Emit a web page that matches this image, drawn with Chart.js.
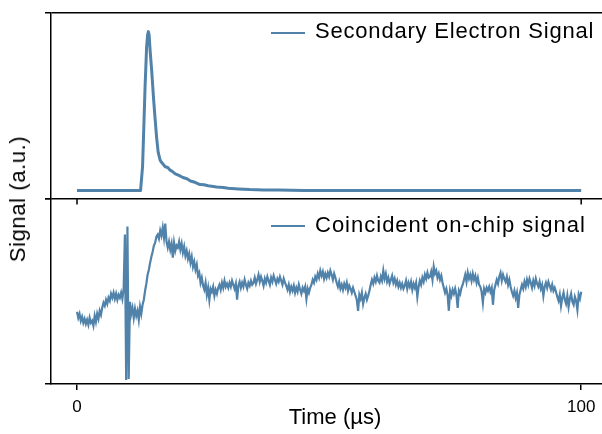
<!DOCTYPE html>
<html>
<head>
<meta charset="utf-8">
<script src="https://cdn.jsdelivr.net/npm/chart.js@4"></script>
<style>
  body { margin: 0; overflow: hidden; background: #fff; }
  #wrap { position: relative; width: 620px; height: 434px; font-family: "Liberation Sans", Arial, sans-serif; color: #000; }
  .swatch { position: absolute; left: 271px; width: 34px; height: 0; border-top: 2px solid #5082aa; }
  .legend { position: absolute; left: 315px; font-size: 22px; line-height: 20px; letter-spacing: 0.8px; white-space: nowrap; }
  #ylabel { position: absolute; left: 18px; top: 199px; font-size: 22px; letter-spacing: 0.6px; white-space: nowrap;
            transform: translate(-50%, -50%) rotate(-90deg); }
</style>
</head>
<body>
<div id="wrap">
  <canvas id="signals" width="620" height="434"></canvas>
  <div class="swatch" style="top:32px"></div>
  <div class="legend" id="legend-top" style="top:21px"></div>
  <div class="swatch" style="top:225px"></div>
  <div class="legend" id="legend-bottom" style="top:215px; letter-spacing:1px"></div>
  <div id="ylabel">Signal (a.u.)</div>
</div>
<script>
const seriesLabels = ["Secondary Electron Signal", "Coincident on-chip signal"];
const xTicks = [0, 100];

// top panel: secondary electron pulse (normalised)
const topTime = [0, 12.6, 13.0, 13.25, 13.5, 13.8, 14.0, 14.15, 14.3, 14.5, 14.8, 15.2, 15.5, 15.8, 16.1, 16.5, 16.8,
  17.5, 18.0, 18.4, 19.0, 19.5, 20.2, 21.0, 21.8, 22.5, 23.4, 24.4, 25.2, 26.0, 27.7, 29.0, 30.0, 32.0, 34.3, 37.0, 40.0, 45.0, 100];
const topSignal = [0, 0, 0.15, 0.4, 0.655, 0.9, 0.98, 1.0, 0.98, 0.88, 0.76, 0.57, 0.446, 0.33, 0.24, 0.19, 0.176,
  0.15, 0.145, 0.13, 0.118, 0.105, 0.095, 0.082, 0.074, 0.06, 0.052, 0.038, 0.036, 0.03, 0.023, 0.019, 0.014, 0.01, 0.006, 0.004, 0.003, 0, 0];

// bottom panel: coincident on-chip signal, one sample every 0.25 µs
const bottomSignal = [
  72, 66, 70, 63, 67, 61, 65, 60, 64, 59, 66, 61, 63, 58, 68, 62, 70, 65, 73, 69,
  76, 81, 78, 84, 80, 86, 83, 90, 86, 91, 85, 90, 84, 89, 86, 91, 85, 95, 149, 4,
  157, 5, 82, 70, 76, 66, 75, 68, 73, 64, 77, 70, 79, 84, 93, 100, 109, 114, 121, 127,
  132, 138, 141, 147, 149, 145, 153, 148, 156, 146, 160, 142, 136, 142, 134, 140, 126, 141, 133, 138,
  136, 142, 134, 140, 131, 137, 128, 133, 125, 130, 121, 127, 117, 122, 114, 119, 108, 111, 101, 106,
  98, 94, 101, 89, 96, 84, 95, 92, 97, 88, 94, 90, 96, 99, 94, 101, 96, 103, 97, 100,
  96, 101, 97, 103, 99, 95, 100, 84, 98, 102, 96, 101, 97, 104, 99, 95, 101, 98, 103, 99,
  101, 106, 100, 104, 109, 102, 107, 103, 98, 105, 101, 107, 103, 99, 106, 102, 108, 104, 100, 105,
  102, 107, 103, 99, 105, 101, 98, 94, 99, 92, 97, 93, 98, 91, 96, 92, 99, 94, 90, 96,
  93, 97, 85, 95, 91, 96, 99, 104, 101, 107, 104, 110, 106, 113, 108, 112, 105, 110, 106, 111,
  107, 113, 109, 104, 110, 106, 101, 97, 102, 95, 99, 94, 100, 96, 101, 93, 98, 95, 91, 96,
  92, 88, 84, 73, 89, 85, 91, 80, 86, 90, 84, 88, 93, 99, 104, 100, 106, 102, 108, 103,
  101, 107, 103, 113, 105, 110, 102, 106, 100, 104, 108, 101, 105, 99, 103, 97, 101, 96, 100, 95,
  98, 103, 95, 101, 97, 102, 94, 100, 96, 101, 87, 97, 103, 99, 106, 102, 109, 105, 111, 106,
  107, 112, 104, 117, 110, 113, 106, 110, 104, 108, 101, 96, 91, 95, 89, 73, 93, 88, 94, 90,
  95, 89, 76, 93, 90, 96, 99, 104, 109, 102, 111, 105, 109, 103, 110, 104, 108, 101, 106, 99,
  97, 92, 81, 95, 91, 96, 93, 97, 92, 96, 79, 94, 99, 104, 100, 107, 111, 103, 109, 105,
  102, 107, 99, 104, 97, 92, 88, 93, 86, 91, 76, 89, 94, 99, 95, 102, 97, 104, 99, 105,
  101, 96, 103, 98, 105, 100, 97, 102, 95, 99, 88, 97, 101, 96, 102, 98, 94, 99, 93, 96,
  92, 87, 83, 89, 78, 86, 91, 84, 80, 88, 77, 85, 90, 82, 79, 87, 83, 74, 89, 85,
  92
];
const sampleInterval = 0.25;
const bottomTime = bottomSignal.map((_, i) => i * sampleInterval);

const lineColor = "#5082aa";
const axisFont = "'Liberation Sans', Arial, sans-serif";

document.getElementById("legend-top").textContent = seriesLabels[0];
document.getElementById("legend-bottom").textContent = seriesLabels[1];

function toPoints(xs, ys) {
  return xs.map((x, i) => ({ x: x, y: ys[i] }));
}

// little outward x ticks under the upper panel
const panelTicks = {
  id: "panelTicks",
  afterDraw(chart) {
    const ctx = chart.ctx;
    const xScale = chart.scales.x;
    const y0 = chart.scales.yTop.bottom;
    ctx.save();
    ctx.strokeStyle = "#000";
    ctx.lineWidth = 1.5;
    xTicks.forEach(v => {
      const px = xScale.getPixelForValue(v);
      ctx.beginPath();
      ctx.moveTo(px, y0);
      ctx.lineTo(px, y0 + 6);
      ctx.stroke();
    });
    ctx.restore();
  }
};

const edgeTicks = s => { s.ticks = [{ value: s.min }, { value: s.max }]; };

new Chart("signals", {
  type: "line",
  data: {
    datasets: [
      { label: seriesLabels[0], data: toPoints(topTime, topSignal), yAxisID: "yTop",
        borderColor: lineColor, borderWidth: 3, borderJoinStyle: "round", pointRadius: 0, tension: 0 },
      { label: seriesLabels[1], data: toPoints(bottomTime, bottomSignal), yAxisID: "yBottom",
        borderColor: lineColor, borderWidth: 2.2, borderJoinStyle: "miter", pointRadius: 0, tension: 0 }
    ]
  },
  options: {
    responsive: false,
    animation: false,
    devicePixelRatio: 1,
    layout: { padding: { left: 45, top: 13, right: 1, bottom: 0 } },
    plugins: { legend: { display: false }, tooltip: { enabled: false } },
    scales: {
      x: {
        type: "linear",
        min: -5.16,
        max: 107.5,
        border: { color: "#000", width: 1.5 },
        grid: { drawOnChartArea: false, color: "#000", lineWidth: 1.5, tickLength: 6 },
        ticks: { color: "#000", font: { family: axisFont, size: 17 }, padding: 7 },
        afterBuildTicks: s => { s.ticks = xTicks.map(v => ({ value: v })); },
        afterFit: s => { s.height = 50; },
        title: { display: true, text: "Time (µs)", color: "#000",
                 font: { family: axisFont, size: 22 }, padding: { top: 0, bottom: 3 } }
      },
      // stacked axes are laid out bottom-first
      yBottom: {
        type: "linear",
        position: "left",
        stack: "signal",
        stackWeight: 1,
        min: 0,
        max: 185,
        border: { color: "#000", width: 1.5 },
        grid: { drawOnChartArea: false, color: "#000", lineWidth: 1.5, tickLength: 6 },
        ticks: { display: false },
        afterBuildTicks: edgeTicks
      },
      yTop: {
        type: "linear",
        position: "left",
        stack: "signal",
        stackWeight: 1,
        min: -0.05,
        max: 1.117,
        border: { color: "#000", width: 1.5 },
        grid: { color: "#000", lineWidth: 1.5, tickLength: 6 },
        ticks: { display: false },
        afterBuildTicks: edgeTicks
      }
    }
  },
  plugins: [panelTicks]
});
</script>
</body>
</html>
